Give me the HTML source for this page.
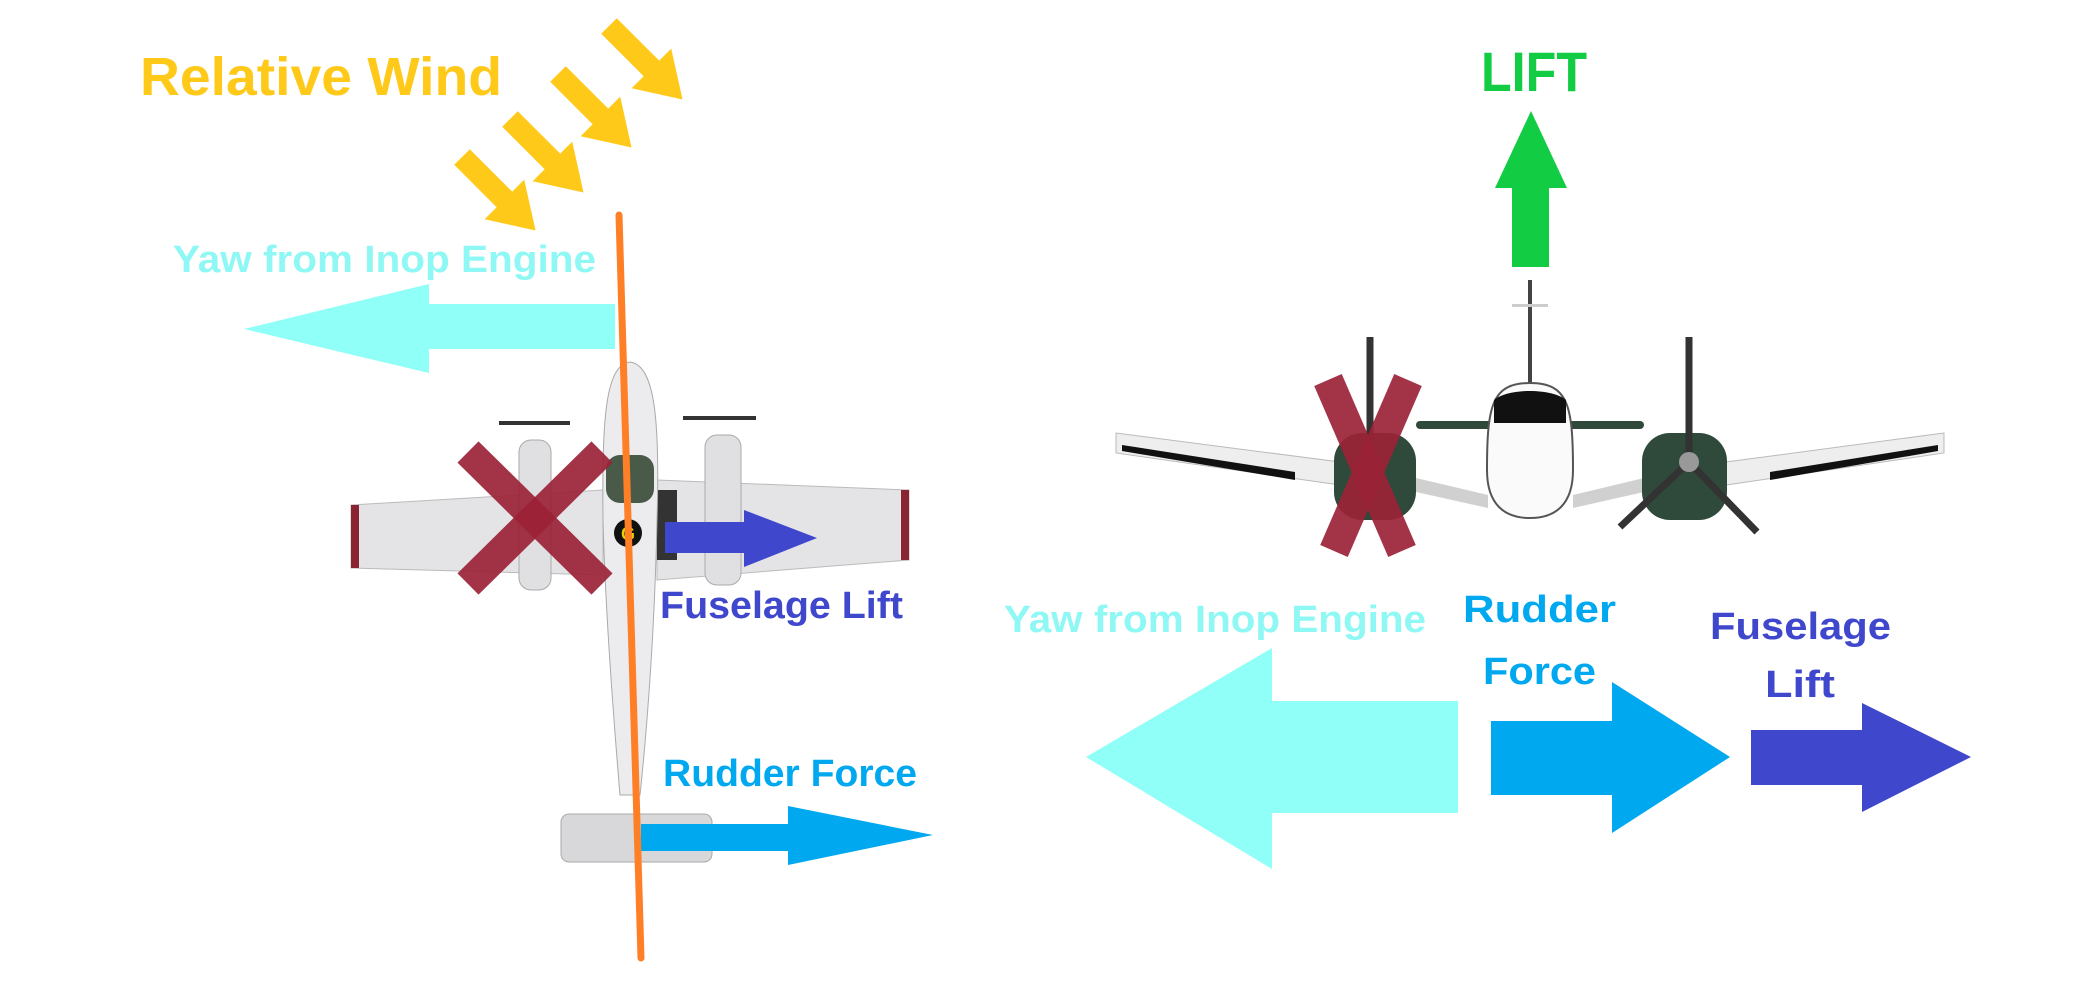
<!DOCTYPE html>
<html><head><meta charset="utf-8"><style>
html,body{margin:0;padding:0;background:#fff;}
svg{display:block;}
text{font-family:"Liberation Sans",sans-serif;font-weight:bold;}
</style></head><body>
<svg width="2095" height="991" viewBox="0 0 2095 991" xmlns="http://www.w3.org/2000/svg">
<!-- LEFT: top view -->
<text x="140" y="95" font-size="54" fill="#ffc91a" textLength="362" lengthAdjust="spacingAndGlyphs">Relative Wind</text>
<g fill="#ffc91a">
  <g transform="translate(462,157) rotate(45)"><polygon points="0,-11 60,-11 60,-28 104,0 60,28 60,11 0,11"/></g>
  <g transform="translate(510,119) rotate(45)"><polygon points="0,-11 60,-11 60,-28 104,0 60,28 60,11 0,11"/></g>
  <g transform="translate(558,74) rotate(45)"><polygon points="0,-11 60,-11 60,-28 104,0 60,28 60,11 0,11"/></g>
  <g transform="translate(609,26) rotate(45)"><polygon points="0,-11 60,-11 60,-28 104,0 60,28 60,11 0,11"/></g>
</g>
<text x="173" y="272" font-size="38" fill="#8ff8f4" textLength="423" lengthAdjust="spacingAndGlyphs">Yaw from Inop Engine</text>
<polygon points="244,329 429,284 429,304 615,304 615,349 429,349 429,373" fill="#8ffff8"/>
<!-- plane top view -->
<g>
  <rect x="499" y="421" width="71" height="4" fill="#333"/>
  <rect x="683" y="416" width="73" height="4" fill="#333"/>
  <polygon points="351,505 603,490 603,575 351,568" fill="#e4e4e6" stroke="#bbb"/>
  <polygon points="657,480 909,490 909,560 657,580" fill="#e4e4e6" stroke="#bbb"/>
  <rect x="351" y="505" width="8" height="63" fill="#8a2433"/>
  <rect x="901" y="490" width="8" height="70" fill="#8a2433"/>
  <rect x="519" y="440" width="32" height="150" rx="12" fill="#e0e0e2" stroke="#aaa"/>
  <rect x="705" y="435" width="36" height="150" rx="12" fill="#e0e0e2" stroke="#aaa"/>
  <rect x="657" y="490" width="20" height="70" fill="#333"/>
  <path d="M630,362 C655,365 660,420 657,520 C655,620 648,720 640,795 L620,795 C612,700 605,600 603,520 C602,420 605,365 630,362 Z" fill="#ececee" stroke="#aaa"/>
  <rect x="606" y="455" width="48" height="48" rx="14" fill="#4a5a48"/>
  <rect x="561" y="814" width="151" height="48" rx="8" fill="#d8d8da" stroke="#aaa"/>
  <circle cx="628" cy="533" r="14" fill="#111"/>
  <text x="628" y="540" font-size="18" fill="#e8d000" text-anchor="middle">G</text>
</g>
<line x1="468" y1="452" x2="602" y2="584" stroke="#9b2236" stroke-width="30" stroke-opacity="0.92"/>
<line x1="602" y1="452" x2="468" y2="584" stroke="#9b2236" stroke-width="30" stroke-opacity="0.92"/>
<polygon points="665,522 744,522 744,510 817,538 744,567 744,553 665,553" fill="#3f47cc"/>
<text x="660" y="618" font-size="38" fill="#3f47cc" textLength="243" lengthAdjust="spacingAndGlyphs">Fuselage Lift</text>
<text x="663" y="786" font-size="38" fill="#00a8f0" textLength="254" lengthAdjust="spacingAndGlyphs">Rudder Force</text>
<polygon points="641,824 788,824 788,806 933,835 788,865 788,851 641,851" fill="#00a8f0"/>
<line x1="619" y1="215" x2="641" y2="958" stroke="#ff7f27" stroke-width="7" stroke-linecap="round"/>

<!-- RIGHT: front view -->
<text x="1481" y="91" font-size="56" fill="#12cc44" textLength="106" lengthAdjust="spacingAndGlyphs">LIFT</text>
<polygon points="1531,111 1567,188 1549,188 1549,267 1512,267 1512,188 1495,188" fill="#12cc44"/>
<g>
  <rect x="1528" y="280" width="4" height="105" fill="#444"/>
  <rect x="1512" y="304" width="36" height="3" fill="#ccc"/>
  <rect x="1416" y="421" width="228" height="8" rx="4" fill="#2f4a3a"/>
  <polygon points="1116,433 1340,462 1340,485 1116,453" fill="#eeeeee" stroke="#bbb"/>
  <polygon points="1944,433 1726,462 1726,485 1944,453" fill="#eeeeee" stroke="#bbb"/>
  <polygon points="1122,445 1295,472 1295,480 1122,451" fill="#111"/>
  <polygon points="1938,445 1770,472 1770,480 1938,451" fill="#111"/>
  <polygon points="1416,478 1488,495 1488,508 1416,492" fill="#d0d0d0"/>
  <polygon points="1644,478 1573,495 1573,508 1644,492" fill="#d0d0d0"/>
  <rect x="1334" y="433" width="82" height="87" rx="28" fill="#2f4a3a"/>
  <rect x="1642" y="433" width="85" height="87" rx="28" fill="#2f4a3a"/>
  <path d="M1530,383 C1568,383 1573,405 1573,470 C1573,505 1555,518 1530,518 C1505,518 1487,505 1487,470 C1487,405 1492,383 1530,383 Z" fill="#fafafa" stroke="#555" stroke-width="2"/>
  <path d="M1494,400 C1508,388 1552,388 1566,400 L1566,423 L1494,423 Z" fill="#111"/>
  <line x1="1370" y1="337" x2="1370" y2="470" stroke="#333" stroke-width="7"/>
  <line x1="1689" y1="337" x2="1689" y2="462" stroke="#333" stroke-width="7"/>
  <line x1="1689" y1="462" x2="1620" y2="527" stroke="#333" stroke-width="7"/>
  <line x1="1689" y1="462" x2="1757" y2="532" stroke="#333" stroke-width="7"/>
  <circle cx="1689" cy="462" r="10" fill="#999"/>
</g>
<line x1="1328" y1="380" x2="1402" y2="551" stroke="#9b2236" stroke-width="30" stroke-opacity="0.92"/>
<line x1="1408" y1="380" x2="1334" y2="551" stroke="#9b2236" stroke-width="30" stroke-opacity="0.92"/>
<text x="1004" y="632" font-size="38" fill="#8ff8f4" textLength="422" lengthAdjust="spacingAndGlyphs">Yaw from Inop Engine</text>
<polygon points="1086,757 1272,648 1272,701 1458,701 1458,813 1272,813 1272,869" fill="#8ffff8"/>
<text x="1463" y="622" font-size="38" fill="#00a8f0" textLength="153" lengthAdjust="spacingAndGlyphs">Rudder</text>
<text x="1483" y="684" font-size="38" fill="#00a8f0" textLength="113" lengthAdjust="spacingAndGlyphs">Force</text>
<polygon points="1491,721 1612,721 1612,682 1730,757 1612,833 1612,795 1491,795" fill="#00a8f0"/>
<text x="1710" y="639" font-size="38" fill="#3f47cc" textLength="181" lengthAdjust="spacingAndGlyphs">Fuselage</text>
<text x="1765" y="697" font-size="38" fill="#3f47cc" textLength="70" lengthAdjust="spacingAndGlyphs">Lift</text>
<polygon points="1751,730 1862,730 1862,703 1971,757 1862,812 1862,785 1751,785" fill="#3f47cc"/>
</svg>
</body></html>
